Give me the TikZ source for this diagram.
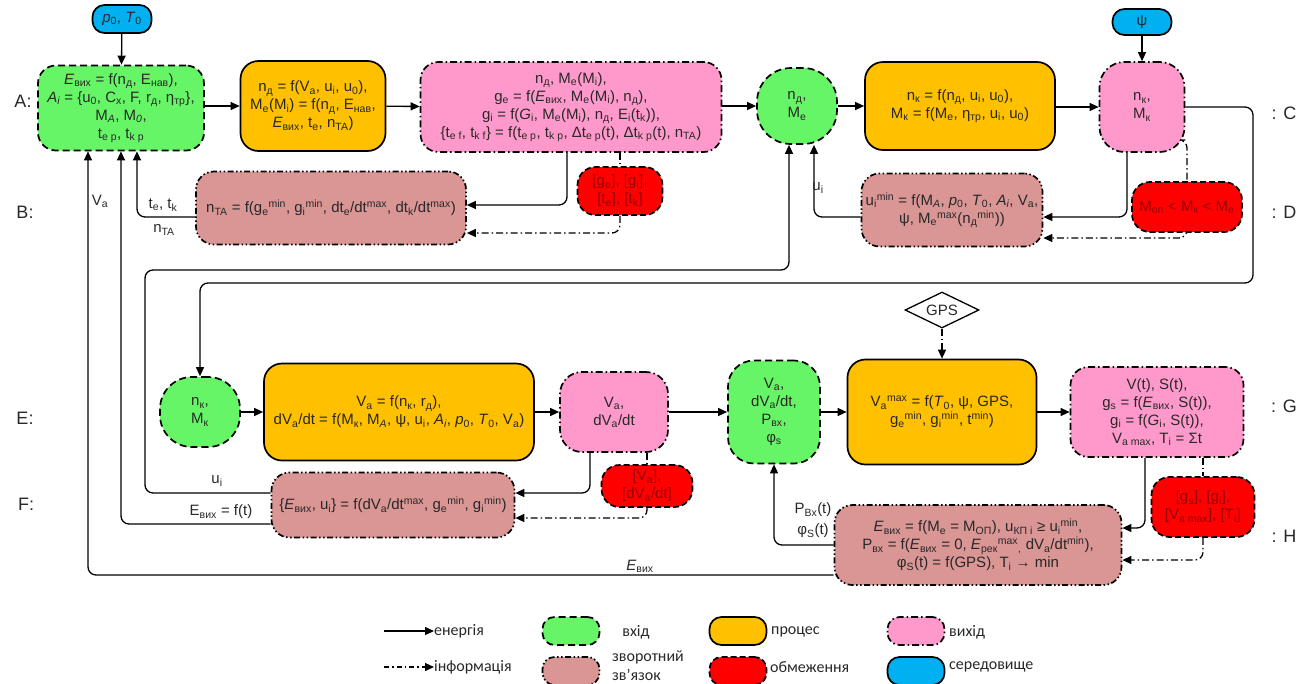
\documentclass[tikz,border=0pt]{standalone}
\usepackage{fontspec}
\setmainfont{Liberation Sans}
\newfontfamily\legfamily{Carlito}
\usetikzlibrary{arrows.meta,shapes.geometric,calc}
\pgfdeclarelayer{bg}
\pgfsetlayers{bg,main}
\definecolor{cgreen}{RGB}{102,245,102}
\definecolor{corange}{RGB}{255,192,0}
\definecolor{cpink}{RGB}{255,153,204}
\definecolor{cbrown}{RGB}{217,150,148}
\definecolor{cred}{RGB}{255,0,0}
\definecolor{cblue}{RGB}{0,176,240}
\definecolor{ctxt}{RGB}{40,40,40}
\definecolor{credtxt}{RGB}{150,0,0}
\newcommand\Ls[1]{\textsubscript{#1}}
\newcommand\Us[1]{\textsuperscript{#1}}
\newcommand\Is[1]{\textsubscript{\itshape #1}}
\newcommand\bxfont{\fontsize{15}{18}\selectfont}
\newcommand\lblfont{\fontsize{15}{17}\selectfont}
\newcommand\sidefont{\fontsize{18}{20}\selectfont}
\newcommand\legfont{\legfamily\fontsize{16}{19}\selectfont}
\tikzset{
  bx/.style={rounded corners=18pt, line width=1.7pt, align=center, inner sep=1pt, font=\bxfont, text=ctxt, draw=black},
  vhid/.style={bx, fill=cgreen, dash pattern=on 7pt off 4pt},
  proc/.style={bx, fill=corange},
  vyh/.style={bx, fill=cpink, dash pattern=on 7pt off 3pt on 1.5pt off 3pt},
  fbk/.style={bx, fill=cbrown, dash pattern=on 6pt off 2.5pt on 1.5pt off 2.5pt on 1.5pt off 2.5pt},
  lim/.style={bx, fill=cred, text=credtxt, dash pattern=on 6pt off 3pt},
  env/.style={bx, fill=cblue},
  en/.style={draw=black, line width=1.3pt, rounded corners=8pt, -{Triangle[length=9pt,width=8pt]}},
  inf/.style={en, dash pattern=on 7pt off 3pt on 1.5pt off 3pt},
  infl/.style={draw=black, line width=1.3pt, rounded corners=8pt, dash pattern=on 7pt off 3pt on 1.5pt off 3pt},
  lbl/.style={font=\lblfont, text=ctxt, inner sep=0pt},
  side/.style={font=\sidefont, text=ctxt, inner sep=0pt},
  leg/.style={font=\legfont, text=ctxt, inner sep=0pt},
  legbox/.style={minimum width=57pt, minimum height=28pt, rounded corners=12pt},
}
\begin{document}
\begin{tikzpicture}[x=1pt,y=-1pt]
\useasboundingbox (0,0) rectangle (1309,683);
\clip (0,0) rectangle (1309,683);
% ---------- row A / C ----------
\node[env, minimum width=59pt, minimum height=28pt, rounded corners=12pt] (p0) at (122,19) {\textit{p}\Ls{0}, \textit{T}\Ls{0}};
\node[vhid, minimum width=166pt, minimum height=85pt] (A) at (121,108)
  {\textit{E}\Ls{вих} = f(n\Ls{д}, E\Ls{нав}),\\ \textit{A\Ls{i}} = \{u\Ls{0}, C\Ls{x}, F, r\Ls{д}, η\Ls{тр}\},\\ M\Is{A}, M\Is{0},\\ t\Ls{e p}, t\Ls{k p}};
\node[proc, minimum width=145pt, minimum height=90pt] (o1) at (313,106)
  {n\Ls{д} = f(V\Ls{a}, u\Ls{i}, u\Ls{0}),\\ M\Ls{e}(M\Ls{i}) = f(n\Ls{д}, E\Ls{нав},\\ \textit{E}\Ls{вих}, t\Ls{e}, n\Ls{TA})};
\node[vyh, minimum width=301pt, minimum height=90pt] (pb) at (571,107)
  {n\Ls{д}, M\Ls{e}(M\Ls{i}),\\ g\Ls{e} = f(\textit{E}\Ls{вих}, M\Ls{e}(M\Ls{i}), n\Ls{д}),\\ g\Ls{i} = f(\textit{G}\Ls{i}, M\Ls{e}(M\Ls{i}), n\Ls{д}, E\Ls{i}(t\Ls{k})),\\ \{t\Ls{e f}, t\Ls{k f}\} = f(t\Ls{e p}, t\Ls{k p}, Δt\Ls{e p}(t), Δt\Ls{k p}(t), n\Ls{TA})};
\node[vhid, minimum width=80pt, minimum height=76pt, rounded corners=34pt] (nd) at (797,106) {n\Ls{д},\\ M\Ls{e}};
\node[proc, minimum width=190pt, minimum height=88pt] (o2) at (960,106)
  {n\Ls{к} = f(n\Ls{д}, u\Ls{i}, u\Ls{0}),\\ M\Ls{к} = f(M\Ls{e}, η\Ls{тр}, u\Ls{i}, u\Ls{0})};
\node[vyh, minimum width=85pt, minimum height=90pt, rounded corners=25pt] (pc) at (1142,107) {n\Ls{к},\\ M\Ls{к}};
\node[env, minimum width=59pt, minimum height=26pt, rounded corners=12pt] (psi) at (1142,22) {ψ};
% ---------- row B / D ----------
\node[fbk, minimum width=270pt, minimum height=73pt] (fb) at (331,208)
  {n\Ls{TA} = f(g\Ls{e}\Us{min}, g\Ls{i}\Us{min}, dt\Ls{e}/dt\Us{max}, dt\Ls{k}/dt\Us{max})};
\node[lim, minimum width=85pt, minimum height=48pt] (rb) at (620,191) {[g\Ls{e}], [g\Ls{i}],\\{}[t\Ls{e}], [t\Ls{k}]};
\node[fbk, minimum width=181pt, minimum height=73pt] (fd) at (952,210)
  {u\Ls{i}\Us{min} = f(M\Is{A}, \textit{p}\Ls{0}, \textit{T}\Ls{0}, \textit{A\Ls{i}}, V\Ls{a},\\ ψ, M\Ls{e}\Us{max}(n\Ls{д}\Us{min}))};
\node[lim, minimum width=110pt, minimum height=50pt] (rd) at (1187,207) {M\Ls{оп} < M\Ls{к} < M\Ls{e}};
% ---------- row E / G ----------
\node[vhid, minimum width=80pt, minimum height=70pt, rounded corners=32pt] (ge) at (200,412) {n\Ls{к},\\ M\Ls{к}};
\node[proc, minimum width=270pt, minimum height=97pt] (oe) at (399,412)
  {V\Ls{a} = f(n\Ls{к}, r\Ls{д}),\\ dV\Ls{a}/dt = f(M\Ls{к}, M\Is{A}, ψ, u\Ls{i}, \textit{A\Ls{i}}, \textit{p}\Ls{0}, \textit{T}\Ls{0}, V\Ls{a})};
\node[vyh, minimum width=108pt, minimum height=80pt, rounded corners=22pt] (pe) at (614,412) {V\Ls{a},\\ dV\Ls{a}/dt};
\node[vhid, minimum width=92pt, minimum height=103pt, rounded corners=26pt] (g2) at (774,412) {V\Ls{a},\\ dV\Ls{a}/dt,\\ P\Ls{вх},\\ φ\Ls{s}};
\node[proc, minimum width=189pt, minimum height=105pt] (ov) at (942,412)
  {V\Ls{a}\Us{max} = f(\textit{T}\Ls{0}, ψ, GPS,\\ g\Ls{e}\Us{min}, g\Ls{i}\Us{min}, t\Us{min})};
\node[diamond, draw=black, line width=1.3pt, aspect=2, minimum width=74pt, minimum height=36pt, inner sep=0pt, font=\bxfont, text=ctxt] (gps) at (942,310) {GPS};
\node[vyh, minimum width=173pt, minimum height=90pt] (pg) at (1157,412)
  {V(t), S(t),\\ g\Ls{s} = f(\textit{E}\Ls{вих}, S(t)),\\ g\Ls{i} = f(\textit{G}\Ls{i}, S(t)),\\ V\Ls{a max}, T\Ls{i} = Σt};
% ---------- row F / H ----------
\node[fbk, minimum width=243pt, minimum height=65pt] (ff) at (393,505)
  {\{\textit{E}\Ls{вих}, u\Ls{i}\} = f(dV\Ls{a}/dt\Us{max}, g\Ls{e}\Us{min}, g\Ls{i}\Us{min})};
\node[lim, minimum width=91pt, minimum height=42pt] (rf) at (647,486) {[V\Ls{a}],\\{}[dV\Ls{a}/dt]};
\node[fbk, minimum width=287pt, minimum height=80pt] (fh) at (978,545)
  {\textit{E}\Ls{вих} = f(M\Ls{e} = M\Ls{ОП}), u\Ls{КП i} ≥ u\Ls{i}\Us{min},\\ P\Ls{вх} = f(\textit{E}\Ls{вих} = 0, \textit{E}\Ls{рек}\Us{max}\Ls{,} dV\Ls{a}/dt\Us{min}),\\ φ\Ls{S}(t) = f(GPS), T\Ls{i} → min};
\node[lim, minimum width=103pt, minimum height=60pt] (rh) at (1203,507) {[g\Ls{s}], [g\Ls{i}],\\{}[V\Ls{a max}], [T\Ls{i}]};
% ---------- side labels ----------
\node[side] (sA) at (23,101) {A:};
\node[side] (sB) at (25,212) {B:};
\node[side] (sE) at (25,418) {E:};
\node[side] (sF) at (26,504) {F:};
\node[side] (sC) at (1284,113) {: C};
\node[side] (sD) at (1284,212) {: D};
\node[side] (sG) at (1284,406) {: G};
\node[side] (sH) at (1284,536) {: H};
% ---------- connector labels ----------
\node[lbl] (lva) at (100,201) {V\Ls{a}};
\node[lbl] (lte) at (163,205) {t\Ls{e}, t\Ls{k}};
\node[lbl] (lnta) at (164,230) {n\Ls{TA}};
\node[lbl] (lud) at (818,188) {u\Ls{i}};
\node[lbl] (luf) at (217,481) {u\Ls{i}};
\node[lbl] (lef) at (221,512) {E\Ls{вих} = f(t)};
\node[lbl] (leb) at (640,566) {\textit{E}\Ls{вих}};
\node[lbl] (lpv) at (813,510) {P\Ls{Вх}(t)};
\node[lbl] (lph) at (813,531) {φ\Ls{S}(t)};
\coordinate (c1) at (1253,283);
\coordinate (u1) at (145,270);
% ---------- connectors ----------
\begin{pgfonlayer}{bg}
\draw[en] (p0) -- (A);
\draw[en] (A.east |- o1) -- (o1.west);
\draw[en] (o1) -- (pb);
\draw[en] (pb.east |- nd) -- (nd.west);
\draw[en] (nd) -- (o2);
\draw[en] (o2.east |- pc) -- (pc.west);
\draw[en] (psi) -- (pc);
\draw[en] ([xshift=-4pt]pb.south) |- ([yshift=3pt]fb.east);
\draw[infl] ([xshift=49pt]pb.south) -- (rb.north);
\draw[inf] (rb.south) |- ([yshift=-25pt]fb.east);
\draw[en] ([yshift=-9pt]fb.west) -| ([xshift=16pt]A.south);
\draw[en] ([xshift=-15pt]pc.south) |- ([yshift=-7pt]fd.east);
\draw[infl] ([yshift=-33pt]pc.east) -| (rd.north);
\draw[inf] (rd.south) |- ([yshift=-28pt]fd.east);
\draw[en] ([yshift=-7pt]fd.west) -| ([xshift=17pt]nd.south);
\draw[en] (pc.east) -| (c1) -| (ge.north);
\draw[en] (ge) -- (oe);
\draw[en] (oe) -- (pe);
\draw[en] (pe) -- (g2);
\draw[en] (g2) -- (ov);
\draw[en] (ov) -- (pg);
\draw[inf] (gps.south) -- (ov.north);
\draw[en] ([xshift=-24pt]pe.south) |- ([yshift=12pt]ff.east);
\draw[infl] ([xshift=33pt]pe.south) -- (rf.north);
\draw[inf] (rf.south) |- ([yshift=-13pt]ff.east);
\draw[en] ([xshift=-12pt]pg.south) |- ([yshift=17pt]fh.east);
\draw[infl] ([xshift=46pt]pg.south) -- (rh.north);
\draw[inf] (rh.south) |- ([yshift=-15pt]fh.east);
\draw[en] ([yshift=12pt]ff.west) -| (u1) -| ([xshift=-8pt]nd.south);
\draw[en] ([yshift=-19pt]ff.west) -| (A.south);
\draw[en] ([yshift=-30pt]fh.west) -| ([xshift=-33pt]A.south);
\draw[en] (fh.west) -| (g2.south);
\end{pgfonlayer}
% ---------- legend ----------
\node[leg, anchor=west] (tE) at (434,631) {енергія};
\node[leg, anchor=west] (tI) at (434,667) {інформація};
\coordinate (le1) at (384,631);
\coordinate (li1) at (384,667);
\draw[en] (le1) -- (tE.west);
\draw[inf, dash pattern=on 5pt off 3pt on 1.5pt off 3pt] (li1) -- (tI.west);
\node[vhid, legbox] (kA) at (571,631) {};
\node[leg] (tA) at (636,632) {вхід};
\node[fbk, legbox] (kB) at (571,671) {};
\node[leg, align=left, anchor=west] (tB) at (612,666) {зворотний\\зв’язок};
\node[proc, legbox] (kP) at (738,631) {};
\node[leg, anchor=west] (tP) at (771,632) {процес};
\node[lim, legbox] (kR) at (738,671) {};
\node[leg, anchor=west] (tR) at (770,667) {обмеження};
\node[vyh, legbox] (kO) at (916,631) {};
\node[leg, anchor=west] (tO) at (949,632) {вихід};
\node[env, legbox] (kS) at (916,671) {};
\node[leg, anchor=west] (tS) at (949,667) {середовище};
\end{tikzpicture}
\end{document}
